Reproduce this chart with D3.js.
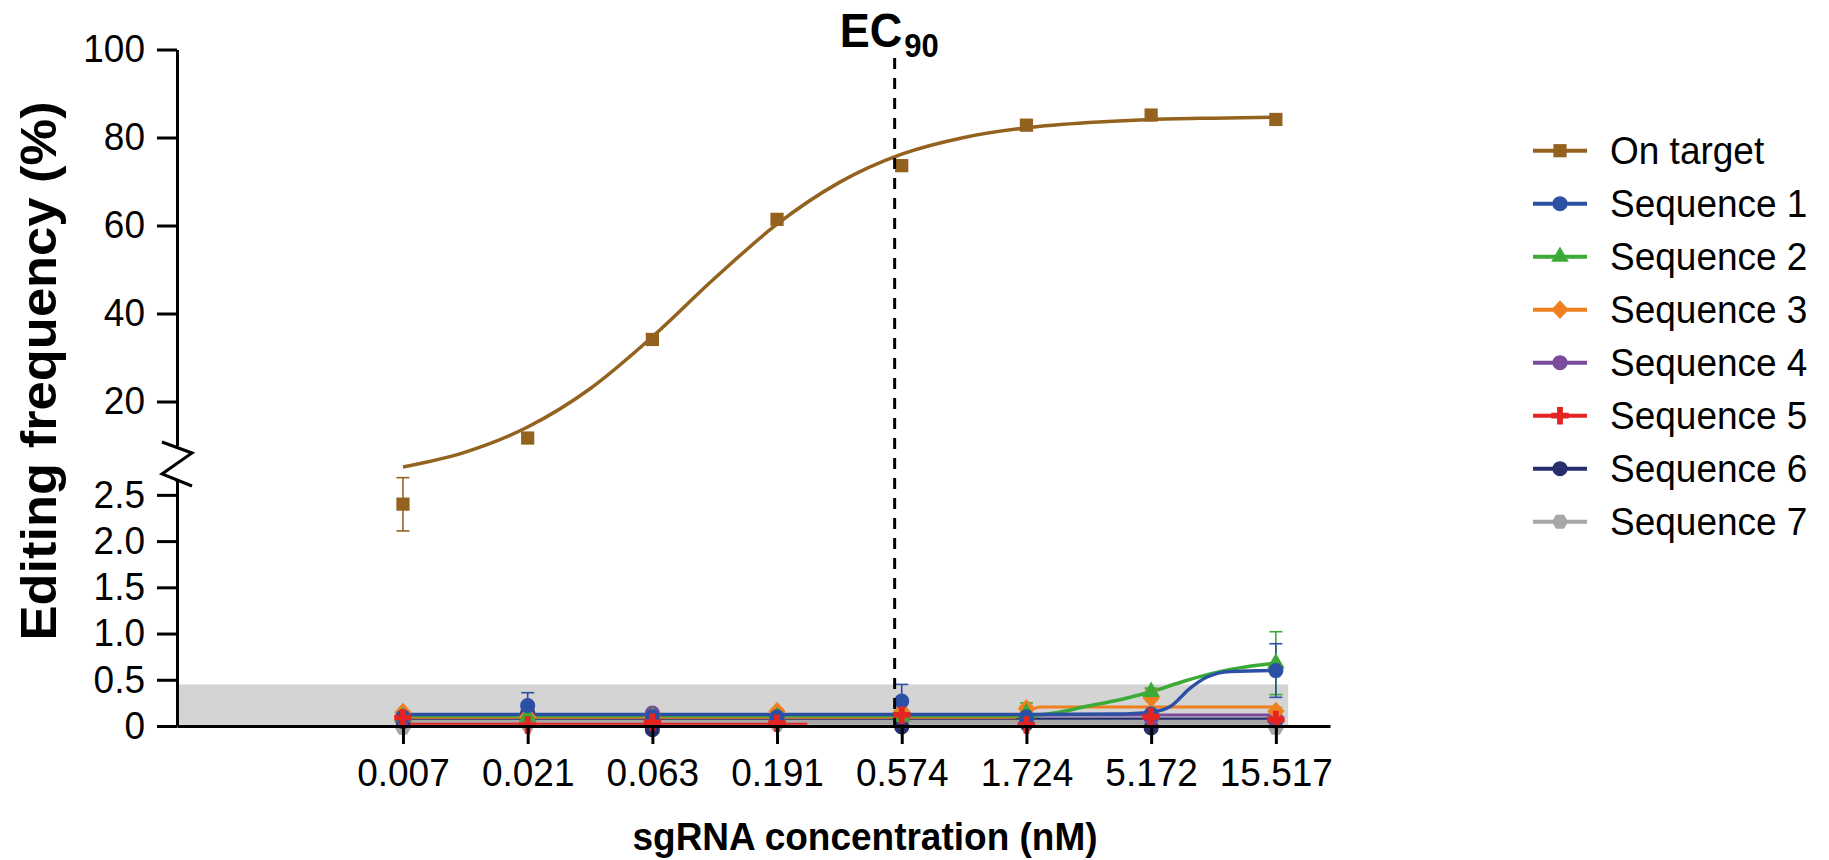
<!DOCTYPE html>
<html><head><meta charset="utf-8">
<script src="https://cdn.jsdelivr.net/npm/d3@7"></script>
<style>
body{margin:0;background:#fff}
svg{display:block}
text{font-family:"Liberation Sans",Arial,Helvetica,sans-serif;fill:#000}
</style>
</head><body>
<svg id="chart" width="1829" height="860"></svg>
<script>
// ---------- data ----------
const concLabels = ["0.007","0.021","0.063","0.191","0.574","1.724","5.172","15.517"];
const concentrations = [0.0071,0.0213,0.0639,0.1916,0.5747,1.724,5.172,15.517];
const upperTicks = [20,40,60,80,100];
const lowerTicks = [0,0.5,1,1.5,2,2.5];
const lowerTickLabels = ["0","0.5","1.0","1.5","2.0","2.5"];
const seriesNames = ["On target","Sequence 1","Sequence 2","Sequence 3","Sequence 4","Sequence 5","Sequence 6","Sequence 7"];
const seriesColors = ["#94621F","#2B50A4","#3BAA36","#F0801F","#7A4A9C","#E42420","#262F6C","#A6A6A6"];
const seriesSymbols = ["square","circle","triangle","diamond","circle","cross","circle","hexagon"];

const onTarget    = [2.40, 11.7, 34.1, 61.4, 73.6, 82.8, 85.1, 84.1];
const onTargetErr = [0.29, 0, 0, 0, 0, 0, 0, 0];
const onTargetFitX = [0.0071,0.0123,0.0213,0.0369,0.0639,0.1106,0.1916,0.332,0.5747,0.995,1.724,2.986,5.172,8.958,15.517];
const onTargetFitY = [5.1,8.5,14.2,22.9,34.7,48.0,60.3,69.8,76.2,80.0,82.2,83.4,84.1,84.4,84.6];

const seq1 = [0.10, 0.22, 0.10, 0.10, 0.27, 0.10, 0.13, 0.60];
const seq1Err = [0, 0.14, 0, 0, 0.18, 0, 0, 0.29];
const seq1FitX = [0.0071, 1.724, 3.8, 5.172, 6.12, 7.3, 8.47, 10.4, 15.517];
const seq1FitY = [0.125, 0.125, 0.13, 0.15, 0.21, 0.41, 0.53, 0.59, 0.60];

const seq2 = [0.10, 0.10, 0.10, 0.10, 0.10, 0.14, 0.37, 0.68];
const seq2Err = [0, 0, 0, 0, 0, 0.11, 0.04, 0.34];
const seq2FitX = [0.0071, 1.724, 2.2, 2.9, 4.0, 5.172, 7.0, 9.2, 12.0, 15.517];
const seq2FitY = [0.11, 0.11, 0.14, 0.21, 0.29, 0.37, 0.49, 0.58, 0.64, 0.68];

const seq3 = [0.15, 0.10, 0.10, 0.16, 0.16, 0.19, 0.30, 0.16];
const seq3Err = [0, 0, 0, 0, 0, 0.03, 0.09, 0.04];
const seq3FitX = [0.0071, 1.55, 1.724, 1.95, 15.517];
const seq3FitY = [0.095, 0.095, 0.15, 0.205, 0.205];

const seq4 = [0.08, 0.10, 0.14, 0.08, 0.10, 0.08, 0.08, 0.08];
const seq4FitX = [0.0071, 15.517];
const seq4FitY = [0.12, 0.12];

const seq5 = [0.09, 0.01, 0.04, 0.03, 0.12, 0.01, 0.10, 0.07];
const seq5FitX = [0.0071, 0.25];
const seq5FitY = [0.025, 0.025];

const seq6 = [0.05, 0.14, -0.04, 0.06, -0.01, 0.03, -0.02, 0.06];
const seq6FitX = [0.0071, 15.517];
const seq6FitY = [0.08, 0.08];

const seq7 = [-0.02, 0.02, 0.02, 0.02, 0.02, 0.02, 0.02, -0.02];
const seq7FitX = [0.0071, 15.517];
const seq7FitY = [0.045, 0.045];

const noiseBandMaxX = 17.3;   // grey background band
const noiseBandMaxY = 0.45;
const ec90 = 0.54;

// ---------- scales ----------
const svg = d3.select("#chart");
const x = d3.scaleLog().domain([0.00097, 25]).range([177, 1330]);
const yUp = d3.scaleLinear().domain([10, 100]).range([445.5, 49.5]);
const yLo = d3.scaleLinear().domain([0, 2.65]).range([726, 481]);
const yPos = v => v > 2.65 ? yUp(v) : yLo(v);
const axisX = 177;
const SY = 1.05; // vertical text stretch seen in the reference

// custom symbols
const symbolHexagon = {
  draw(ctx, size) {
    const r = Math.sqrt(size / (1.5 * Math.sqrt(3)));
    for (let i = 0; i < 6; i++) {
      const a = Math.PI / 3 * i;
      const px = r * Math.cos(a), py = r * Math.sin(a);
      if (i === 0) ctx.moveTo(px, py); else ctx.lineTo(px, py);
    }
    ctx.closePath();
  }
};
const symbolRhomb = {
  draw(ctx, size) {
    const r = Math.sqrt(size / 2);
    ctx.moveTo(0, -r * 1.08); ctx.lineTo(r, 0); ctx.lineTo(0, r * 1.08); ctx.lineTo(-r, 0); ctx.closePath();
  }
};
const symTypes = {square: d3.symbolSquare, circle: d3.symbolCircle, triangle: d3.symbolTriangle,
  diamond: symbolRhomb, cross: d3.symbolCross, hexagon: symbolHexagon};
const symSizes = {square: 175, circle: 180, triangle: 135, diamond: 150, cross: 170, hexagon: 170};
const symPath = name => d3.symbol().type(symTypes[name]).size(symSizes[name])();

// ---------- grey band ----------
svg.append("rect")
  .attr("x", x(0.00097)).attr("y", yLo(noiseBandMaxY))
  .attr("width", x(noiseBandMaxX) - x(0.00097))
  .attr("height", yLo(0) - yLo(noiseBandMaxY))
  .attr("fill", "#D4D4D4");

// ---------- fitted lines (lower) ----------
const lineGen = (ys) => d3.line().x(d => x(d[0])).y(d => ys(d[1])).curve(d3.curveMonotoneX);
const lowerFits = [
  {fx: seq7FitX, fy: seq7FitY, c: seriesColors[7], w: 6},
  {fx: seq5FitX, fy: seq5FitY, c: seriesColors[5], w: 2},
  {fx: seq6FitX, fy: seq6FitY, c: seriesColors[6], w: 2.2},
  {fx: seq4FitX, fy: seq4FitY, c: seriesColors[4], w: 3},
  {fx: seq3FitX, fy: seq3FitY, c: seriesColors[3], w: 3},
  {fx: seq2FitX, fy: seq2FitY, c: seriesColors[2], w: 3.5},
  {fx: seq1FitX, fy: seq1FitY, c: seriesColors[1], w: 3.5}
];
lowerFits.forEach(f => {
  svg.append("path")
    .datum(f.fx.map((v, i) => [v, f.fy[i]]))
    .attr("d", lineGen(yLo))
    .attr("fill", "none").attr("stroke", f.c).attr("stroke-width", f.w);
});

// on-target fitted curve
svg.append("path")
  .datum(onTargetFitX.map((v, i) => [v, onTargetFitY[i]]))
  .attr("d", lineGen(yUp))
  .attr("fill", "none").attr("stroke", seriesColors[0]).attr("stroke-width", 3.5);

// ---------- error bars ----------
function errorBars(vals, errs, color) {
  vals.forEach((v, i) => {
    if (!errs[i]) return;
    const cx = x(concentrations[i]);
    const g = svg.append("g").attr("stroke", color).attr("stroke-width", 1.6).attr("fill", "none");
    const yt = yPos(v + errs[i]), yb = yPos(v - errs[i]);
    g.append("line").attr("x1", cx).attr("x2", cx).attr("y1", yt).attr("y2", yb);
    g.append("line").attr("x1", cx - 6.5).attr("x2", cx + 6.5).attr("y1", yt).attr("y2", yt);
    g.append("line").attr("x1", cx - 6.5).attr("x2", cx + 6.5).attr("y1", yb).attr("y2", yb);
  });
}
errorBars(seq3, seq3Err, seriesColors[3]);
errorBars(seq2, seq2Err, seriesColors[2]);
errorBars(seq1, seq1Err, seriesColors[1]);
errorBars(onTarget, onTargetErr, seriesColors[0]);

// ---------- markers ----------
function markers(vals, idx) {
  vals.forEach((v, i) => {
    svg.append("path")
      .attr("d", symPath(seriesSymbols[idx]))
      .attr("transform", `translate(${x(concentrations[i])},${yPos(v)})`)
      .attr("fill", seriesColors[idx]);
  });
}
markers(seq7, 7);
markers(seq6, 6);
markers(seq4, 4);
markers(seq3, 3);
markers(seq2, 2);
markers(seq1, 1);
markers(seq5, 5);
markers(onTarget, 0);

// ---------- axes ----------
const axisStyle = g => {
  g.selectAll("path,line").attr("stroke", "#000").attr("stroke-width", 3);
  g.selectAll("text").attr("font-size", 37).attr("fill", "#000").attr("transform", `scale(1,${SY})`);
};
// upper y axis
svg.append("g").attr("transform", `translate(${axisX},0)`)
  .call(d3.axisLeft(yUp).tickValues(upperTicks).tickFormat(d3.format("d"))
        .tickSize(20).tickSizeOuter(0).tickPadding(12))
  .call(axisStyle);
// lower y axis
svg.append("g").attr("transform", `translate(${axisX},0)`)
  .call(d3.axisLeft(yLo).tickValues(lowerTicks).tickFormat((d, i) => lowerTickLabels[i])
        .tickSize(20).tickSizeOuter(0).tickPadding(12))
  .call(axisStyle);
// axis break zigzag
const yb0 = yUp.range()[0], yb1 = yLo.range()[1];
svg.append("path")
  .attr("d", `M${axisX},${yb0} V${yb0 + 2.5} M${axisX - 15},${yb0 - 3.5} L${axisX + 15},${yb0 + 7.5} L${axisX - 15},${yb1 - 7} L${axisX + 15},${yb1 + 5} M${axisX},${yb1 - 1} V${yb1 + 1}`)
  .attr("fill", "none").attr("stroke", "#000").attr("stroke-width", 3);

// x axis
svg.append("g").attr("transform", `translate(0,${yLo(0)})`)
  .call(d3.axisBottom(x).tickValues(concentrations).tickFormat((d, i) => concLabels[i])
        .tickSize(18).tickSizeOuter(0).tickPadding(12.5))
  .call(axisStyle);

// ---------- EC90 line ----------
svg.append("line")
  .attr("x1", x(ec90)).attr("x2", x(ec90))
  .attr("y1", 58).attr("y2", yLo(0))
  .attr("stroke", "#000").attr("stroke-width", 3).attr("stroke-dasharray", "11,9");
const ecText = svg.append("text")
  .attr("transform", `translate(${x(ec90) - 55},47) scale(1,${SY})`)
  .attr("font-size", 45).attr("font-weight", "bold");
ecText.append("tspan").text("EC");
ecText.append("tspan").attr("font-size", 31).attr("dy", 9.5).attr("dx", 2).text("90");

// ---------- axis titles ----------
svg.append("text")
  .attr("transform", `translate(56,371) scale(1,1.06) rotate(-90)`)
  .attr("text-anchor", "middle").attr("font-size", 49.5).attr("font-weight", "bold")
  .text("Editing frequency (%)");
svg.append("text")
  .attr("transform", `translate(865,850) scale(1,${SY})`)
  .attr("text-anchor", "middle").attr("font-size", 37).attr("font-weight", "bold")
  .text("sgRNA concentration (nM)");

// ---------- legend ----------
const legend = svg.append("g");
seriesNames.forEach((name, i) => {
  const cy = 150.7 + i * 53;
  const g = legend.append("g");
  g.append("line").attr("x1", 1533).attr("x2", 1587).attr("y1", cy).attr("y2", cy)
    .attr("stroke", seriesColors[i]).attr("stroke-width", 4);
  g.append("path").attr("d", symPath(seriesSymbols[i]))
    .attr("transform", `translate(1560,${cy})`).attr("fill", seriesColors[i]);
  g.append("text").attr("transform", `translate(1610,${cy + 13}) scale(1,${SY})`)
    .attr("font-size", 37).text(name);
});
</script>
</body></html>
